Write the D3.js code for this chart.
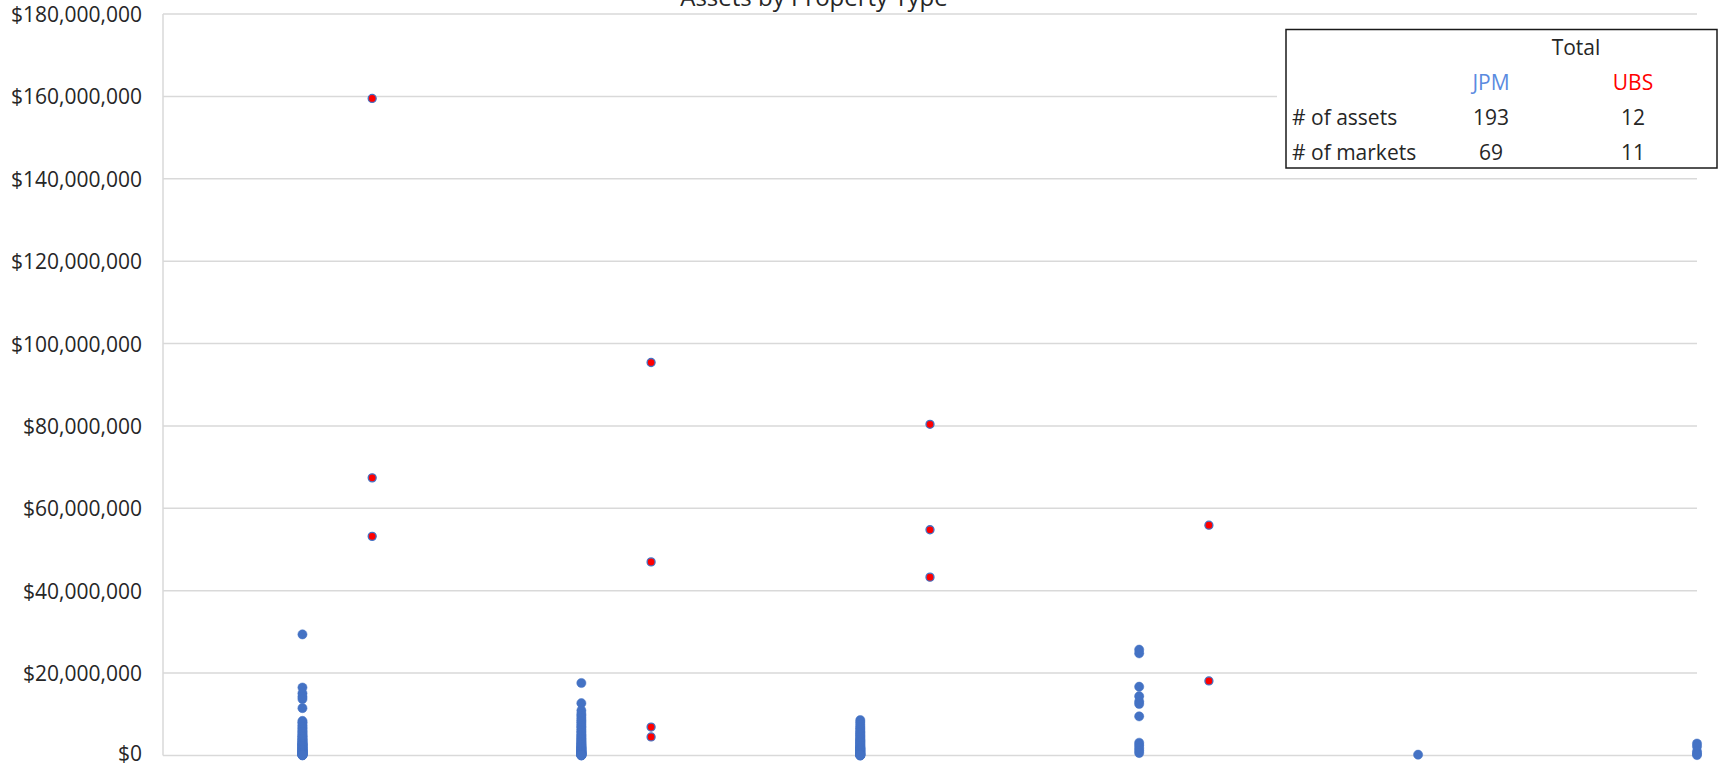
<!DOCTYPE html>
<html>
<head>
<meta charset="utf-8">
<script src="https://cdn.jsdelivr.net/npm/d3@7"></script>
<style>
  html, body { margin: 0; padding: 0; background: #fff; }
  svg { display: block; }
  text { font-family: "Open Sans", "DejaVu Sans", sans-serif; }
</style>
</head>
<body>
<svg id="chart" width="1723" height="767"></svg>
<script>
// ---- data (values in $ millions) ----
const title = "Assets by Property Type";
const categoryIndex = [1, 2, 3, 4, 5, 6];
const yTicks = [0, 20, 40, 60, 80, 100, 120, 140, 160, 180];

const jpm1 = [29.4, 16.5, 15.1, 14.3, 13.7, 11.5, 8.4, 8.1, 7.7, 7.2, 6.9, 6.5, 6.2, 5.8, 5.6, 5.2, 5.0, 4.7, 4.6, 4.3,
  4.1, 3.9, 3.8, 3.6, 3.4, 3.3, 3.1, 2.95, 2.9, 2.75, 2.7, 2.6, 2.45, 2.4, 2.3, 2.2, 2.05, 2.0, 1.9, 1.8,
  1.7, 1.6, 1.55, 1.45, 1.4, 1.3, 1.25, 1.15, 1.1, 1.05, 0.95, 0.9, 0.85, 0.8, 0.72, 0.7, 0.65, 0.6, 0.52, 0.5,
  0.45, 0.4, 0.35, 0.3, 0.25, 0.2, 0.15, 0.12, 0.08, 0.05];
const jpm2 = [17.6, 12.7, 10.9, 10.1, 9.6, 9.0, 8.5, 8.1, 7.6, 7.1, 6.8, 6.3, 5.9, 5.5, 5.1, 4.8, 4.5, 4.2, 3.9, 3.7,
  3.4, 3.2, 3.0, 2.8, 2.6, 2.45, 2.3, 2.1, 2.0, 1.9, 1.8, 1.7, 1.6, 1.5, 1.4, 1.3, 1.2, 1.1, 1.0, 0.95,
  0.9, 0.8, 0.75, 0.7, 0.6, 0.55, 0.5, 0.45, 0.4, 0.35, 0.3, 0.25, 0.2, 0.15, 0.1, 0.08, 0.05, 0.03];
const jpm3 = [8.6, 8.1, 7.5, 7.0, 6.6, 6.2, 5.8, 5.5, 5.2, 4.9, 4.6, 4.3, 4.0, 3.8, 3.6, 3.4, 3.2, 3.0, 2.8, 2.6,
  2.4, 2.2, 2.0, 1.9, 1.8, 1.7, 1.6, 1.5, 1.4, 1.3, 1.2, 1.1, 1.0, 0.9, 0.8, 0.7, 0.6, 0.5, 0.45, 0.4,
  0.3, 0.25, 0.2, 0.1, 0.05, 0.03, 0.02];
const jpm4 = [25.7, 24.8, 16.7, 14.4, 13.1, 12.5, 9.5, 3.1, 2.5, 1.8, 1.2, 0.6];
const jpm5 = [0.2];
const jpm6 = [2.9, 2.2, 1.0, 0.4, 0.1];

const ubs1 = [159.5, 67.4, 53.2];
const ubs2 = [95.4, 47.0, 6.9, 4.5];
const ubs3 = [80.4, 54.8, 43.3];
const ubs4 = [55.9, 18.1];

const jpmByCat = [jpm1, jpm2, jpm3, jpm4, jpm5, jpm6];
const ubsByCat = [ubs1, ubs2, ubs3, ubs4];

const tableHeader = "Total";
const tableCols = ["JPM", "UBS"];
const tableRows = ["# of assets", "# of markets"];
const tableValues = [[193, 12], [69, 11]];

// ---- layout ----
const svg = d3.select("#chart");
const plotLeft = 163, plotRight = 1697, plotTop = 14, plotBottom = 755.5;
const blue = "#4472C4", red = "#FF0000", grid = "#D9D9D9", textCol = "#262626";

const x = d3.scaleLinear().domain([0.5, 6]).range([plotLeft, plotRight]);
const y = d3.scaleLinear().domain([0, 180]).range([plotBottom, plotTop]);

// gridlines
svg.append("g").selectAll("line").data(yTicks).join("line")
  .attr("x1", plotLeft).attr("x2", plotRight)
  .attr("y1", d => y(d)).attr("y2", d => y(d))
  .attr("stroke", grid).attr("stroke-width", 1.5);

// y axis line
svg.append("line").attr("x1", plotLeft).attr("x2", plotLeft).attr("y1", plotTop).attr("y2", plotBottom)
  .attr("stroke", grid).attr("stroke-width", 1.5);

// y axis labels
const fmt = d => "$" + d3.format(",")(d * 1e6);
const yAxis = d3.axisLeft(y).tickValues(yTicks).tickFormat(fmt).tickSize(0).tickPadding(21);
const ga = svg.append("g").attr("transform", `translate(${plotLeft},0)`).call(yAxis);
ga.select(".domain").remove();
ga.selectAll("text").attr("font-size", 21).attr("fill", textCol)
  .attr("font-family", "'Open Sans', sans-serif")
  .attr("dy", d => d === 0 ? "0.24em" : "0.36em");

// title
svg.append("text").attr("x", 814).attr("y", 6).attr("text-anchor", "middle")
  .attr("font-size", 24).attr("fill", textCol).text(title);

// points
const jpmPts = jpmByCat.flatMap((arr, i) => arr.map(v => ({ c: categoryIndex[i], v })));
const ubsPts = ubsByCat.flatMap((arr, i) => arr.map(v => ({ c: categoryIndex[i] + 0.25, v })));

svg.append("g").selectAll("circle").data(jpmPts).join("circle")
  .attr("cx", d => x(d.c)).attr("cy", d => y(d.v)).attr("r", 4.6)
  .attr("fill", blue).attr("stroke", blue).attr("stroke-width", 0.5);

svg.append("g").selectAll("circle").data(ubsPts).join("circle")
  .attr("cx", d => x(d.c)).attr("cy", d => y(d.v)).attr("r", 4.0)
  .attr("fill", red).attr("stroke", blue).attr("stroke-width", 1.3);

// table box
const bx = 1286, by = 29.5, bw = 431, bh = 138.5;
svg.append("rect").attr("x", bx - 9).attr("y", by - 9).attr("width", bw + 18).attr("height", bh + 18)
  .attr("fill", "#fff");
svg.append("rect").attr("x", bx).attr("y", by).attr("width", bw).attr("height", bh)
  .attr("fill", "#fff").attr("stroke", "#1a1a1a").attr("stroke-width", 1.5);

const colX = [1491, 1633];
const tg = svg.append("g").attr("font-size", 21).attr("fill", textCol);
tg.append("text").attr("x", 1576).attr("y", 55).attr("text-anchor", "middle").text(tableHeader);
tg.selectAll(".hdr").data(tableCols).join("text").attr("class", "hdr")
  .attr("x", (d, i) => colX[i]).attr("y", 90).attr("text-anchor", "middle")
  .attr("fill", (d, i) => i === 0 ? "#5B8BDF" : red).text(d => d);
tableRows.forEach((r, ri) => {
  const yy = 125 + ri * 35;
  tg.append("text").attr("x", 1292).attr("y", yy).text(r);
  tableValues[ri].forEach((v, ci) => {
    tg.append("text").attr("x", colX[ci]).attr("y", yy).attr("text-anchor", "middle").text(v);
  });
});
</script>
</body>
</html>
